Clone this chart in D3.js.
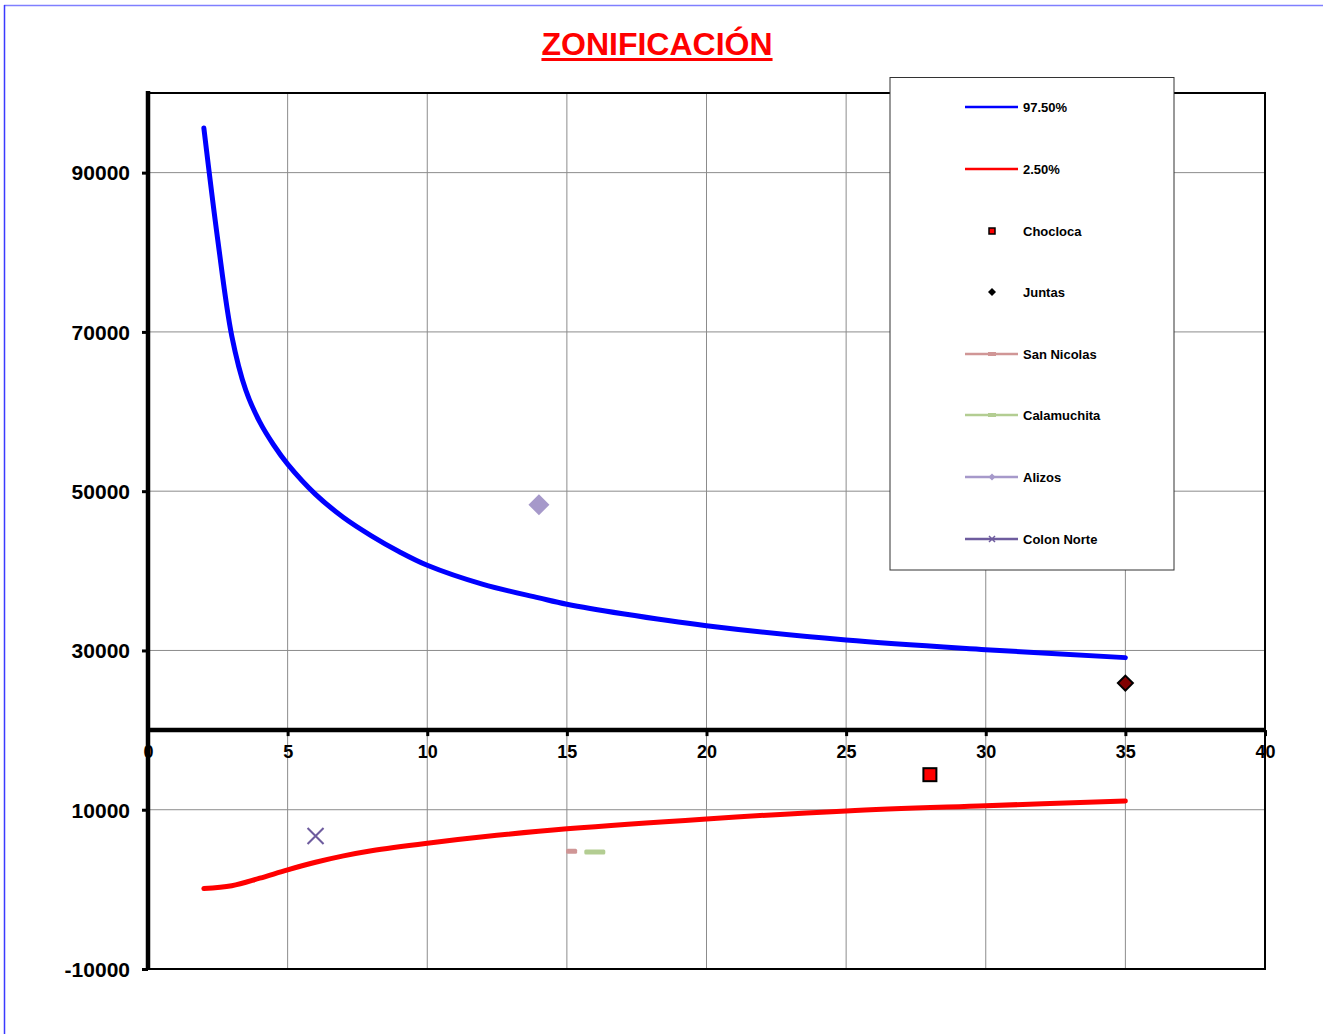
<!DOCTYPE html>
<html>
<head>
<meta charset="utf-8">
<script src="https://cdn.jsdelivr.net/npm/d3@7"></script>
<style>
  html, body { margin: 0; padding: 0; background: #fff; }
  svg { display: block; }
  text { font-family: "Liberation Sans", Arial, Helvetica, sans-serif; font-weight: bold; }
</style>
</head>
<body>
<script>
// Percentile envelope curves
const xUpper = [2, 2.5, 3, 3.5, 4, 4.5, 5, 6, 7, 8, 9, 10, 12, 14, 15, 17, 20, 25, 30, 35];
const upper975 = [95600, 81500, 69500, 62700, 58700, 55800, 53400, 49600, 46700, 44400, 42400, 40700, 38300, 36600, 35800, 34600, 33100, 31300, 30100, 29100];
const xLower = [2, 3, 4, 5, 6, 7, 8, 10, 12, 15, 20, 25, 30, 35];
const lower25 = [100, 450, 1400, 2450, 3400, 4200, 4850, 5800, 6600, 7600, 8850, 9850, 10500, 11100];

// Site observations
const siteNames = ["Chocloca", "Juntas", "San Nicolas", "Calamuchita", "Alizos", "Colon Norte"];
const siteX = [28, 35, 15.17, 16.0, 14, 6];
const siteY = [14400, 25900, 4800, 4700, 48300, 6700];

// Axis ticks
const xTicks = [0, 5, 10, 15, 20, 25, 30, 35, 40];
const yTicks = [-10000, 10000, 30000, 50000, 70000, 90000];

const W = 1323, H = 1034;
const svg = d3.select("body").append("svg").attr("width", W).attr("height", H);

// outer frame
svg.append("line").attr("x1", 4).attr("x2", W).attr("y1", 5.5).attr("y2", 5.5)
  .attr("stroke", "#7f7fff").attr("stroke-width", 1.5);
svg.append("line").attr("x1", 4.5).attr("x2", 4.5).attr("y1", 5).attr("y2", H)
  .attr("stroke", "#3a3aff").attr("stroke-width", 1.5);

// title
const title = svg.append("text").attr("x", 657).attr("y", 55)
  .attr("text-anchor", "middle").attr("fill", "#ff0000")
  .style("font-size", "32px").text("ZONIFICACIÓN");
const tb = title.node().getBBox();
svg.append("rect").attr("x", tb.x).attr("y", 58).attr("width", tb.width).attr("height", 3)
  .attr("fill", "#ff0000");

const L = 148, R = 1265, T = 93, B = 969;
const x = d3.scaleLinear().domain([0, 40]).range([L, R]);
const y = d3.scaleLinear().domain([-10000, 100000]).range([B, T]);

// gridlines
const g = svg.append("g");
g.selectAll(".vg").data(xTicks.filter(d => d > 0 && d < 40)).join("line")
  .attr("x1", d => x(d)).attr("x2", d => x(d)).attr("y1", T).attr("y2", B)
  .attr("stroke", "#8c8c8c").attr("stroke-width", 1);
g.selectAll(".hg").data(yTicks.filter(d => d > -10000)).join("line")
  .attr("x1", L).attr("x2", R).attr("y1", d => y(d)).attr("y2", d => y(d))
  .attr("stroke", "#8c8c8c").attr("stroke-width", 1);

// plot frame (top, right, bottom)
svg.append("path").attr("d", `M${L},${T}H${R}V${B}H${L}`)
  .attr("fill", "none").attr("stroke", "#000").attr("stroke-width", 2);

// x axis crossing at 20000
const y0 = y(20000);
const xAxis = svg.append("g").attr("transform", `translate(0,${y0})`)
  .call(d3.axisBottom(x).tickValues(xTicks).tickSize(6).tickFormat(d => String(d)));
xAxis.select(".domain").remove();
xAxis.selectAll(".tick line").attr("stroke", "#000").attr("stroke-width", 3);
xAxis.selectAll(".tick text").attr("y", 15).attr("dy", "0.71em")
  .style("font-size", "18px").attr("fill", "#000");
svg.append("line").attr("x1", L).attr("x2", R).attr("y1", y0).attr("y2", y0)
  .attr("stroke", "#000").attr("stroke-width", 4.5);

// y axis
const yAxis = svg.append("g").attr("transform", `translate(${L},0)`)
  .call(d3.axisLeft(y).tickValues(yTicks).tickSize(6).tickFormat(d => String(d)));
yAxis.select(".domain").remove();
yAxis.selectAll(".tick line").attr("stroke", "#000").attr("stroke-width", 3);
yAxis.selectAll(".tick text").attr("x", -18).attr("dy", "0.35em")
  .style("font-size", "21px").attr("fill", "#000");
svg.append("line").attr("x1", L).attr("x2", L).attr("y1", T - 2).attr("y2", B + 1)
  .attr("stroke", "#000").attr("stroke-width", 4.5);

// curves
const line = d3.line().x(d => x(d[0])).y(d => y(d[1])).curve(d3.curveCatmullRom.alpha(0.5));
svg.append("path").datum(xUpper.map((v, i) => [v, upper975[i]]))
  .attr("d", line).attr("fill", "none").attr("stroke", "#0000ff")
  .attr("stroke-width", 5).attr("stroke-linecap", "round");
svg.append("path").datum(xLower.map((v, i) => [v, lower25[i]]))
  .attr("d", line).attr("fill", "none").attr("stroke", "#ff0000")
  .attr("stroke-width", 5).attr("stroke-linecap", "round");

// site markers
const diamond = r => `M0,${-r}L${r},0L0,${r}L${-r},0Z`;
function drawSite(i, parent, px, py) {
  const name = siteNames[i];
  if (name === "Chocloca") {
    parent.append("rect").attr("x", px - 6.5).attr("y", py - 6.5)
      .attr("width", 13).attr("height", 13)
      .attr("fill", "#ff0000").attr("stroke", "#000").attr("stroke-width", 2);
  } else if (name === "Juntas") {
    parent.append("path").attr("d", diamond(7.5))
      .attr("transform", `translate(${px},${py})`)
      .attr("fill", "#800000").attr("stroke", "#000").attr("stroke-width", 2);
  } else if (name === "San Nicolas") {
    parent.append("rect").attr("x", px - 5.5).attr("y", py - 2.5)
      .attr("width", 11).attr("height", 5).attr("rx", 1.5).attr("fill", "#d09696");
  } else if (name === "Calamuchita") {
    parent.append("rect").attr("x", px - 10.5).attr("y", py - 2.5)
      .attr("width", 21).attr("height", 5).attr("rx", 1.5).attr("fill", "#b3cd92");
  } else if (name === "Alizos") {
    parent.append("path").attr("d", diamond(10.5))
      .attr("transform", `translate(${px},${py})`)
      .attr("fill", "#a699ca");
  } else if (name === "Colon Norte") {
    const r = 8;
    parent.append("path").attr("d", `M${px - r},${py - r}L${px + r},${py + r}M${px - r},${py + r}L${px + r},${py - r}`)
      .attr("stroke", "#6e5c9e").attr("stroke-width", 2).attr("fill", "none");
  }
}
const marks = svg.append("g");
siteNames.forEach((n, i) => drawSite(i, marks, x(siteX[i]), y(siteY[i])));

// legend
const lg = svg.append("g");
lg.append("rect").attr("x", 890).attr("y", 77.5).attr("width", 284).attr("height", 492.5)
  .attr("fill", "#fff").attr("stroke", "#333").attr("stroke-width", 1);
const legendNames = ["97.50%", "2.50%"].concat(siteNames);
const legendY = [107, 169, 231, 292, 354, 415, 477, 539];
const lineColors = { "97.50%": "#0000ff", "2.50%": "#ff0000", "San Nicolas": "#d09696",
  "Calamuchita": "#b3cd92", "Alizos": "#a699ca", "Colon Norte": "#6e5c9e" };
legendNames.forEach((n, k) => {
  const ly = legendY[k];
  if (lineColors[n]) {
    lg.append("line").attr("x1", 965).attr("x2", 1018).attr("y1", ly).attr("y2", ly)
      .attr("stroke", lineColors[n]).attr("stroke-width", 2.5);
  }
  if (n === "Chocloca") {
    lg.append("rect").attr("x", 989).attr("y", ly - 3).attr("width", 6).attr("height", 6)
      .attr("fill", "#ff0000").attr("stroke", "#000").attr("stroke-width", 1.5);
  } else if (n === "Juntas") {
    lg.append("path").attr("d", diamond(4))
      .attr("transform", `translate(992,${ly})`).attr("fill", "#000");
  } else if (n === "Alizos") {
    lg.append("path").attr("d", diamond(3.5))
      .attr("transform", `translate(992,${ly})`).attr("fill", "#a699ca");
  } else if (n === "San Nicolas" || n === "Calamuchita") {
    lg.append("rect").attr("x", 988).attr("y", ly - 2).attr("width", 8).attr("height", 4)
      .attr("fill", lineColors[n]);
  } else if (n === "Colon Norte") {
    lg.append("path").attr("d", `M989,${ly - 3}L995,${ly + 3}M989,${ly + 3}L995,${ly - 3}`)
      .attr("stroke", "#6e5c9e").attr("stroke-width", 1.5);
  }
  lg.append("text").attr("x", 1023).attr("y", ly).attr("dy", "0.36em")
    .style("font-size", "13px").attr("fill", "#000").text(n);
});
</script>
</body>
</html>
